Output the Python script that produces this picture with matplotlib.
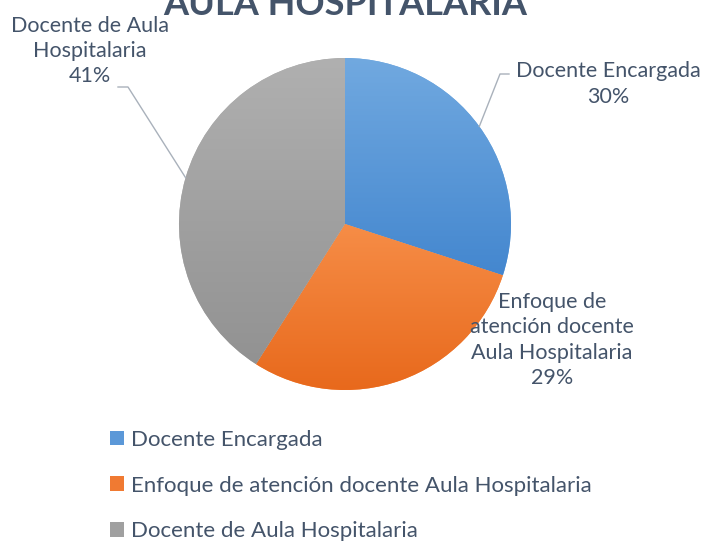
import numpy as np
import matplotlib.pyplot as plt
from matplotlib.patches import Patch

# Datos del gráfico
categorias = ["Docente Encargada",
              "Enfoque de atención docente Aula Hospitalaria",
              "Docente de Aula Hospitalaria"]
porcentajes = [30, 29, 41]
etiquetas = ["Docente Encargada",
             "Enfoque de\natención docente\nAula Hospitalaria",
             "Docente de Aula\nHospitalaria"]
titulo = "AULA HOSPITALARIA"

colores_claros = ["#71a9e0", "#f68d47", "#b0b0b0"]
colores_oscuros = ["#4487cf", "#e8691c", "#929292"]
colores_leyenda = ["#5b98d8", "#f07a32", "#a0a0a0"]
color_texto = "#44546a"

plt.rcParams["font.family"] = ["Lato", "DejaVu Sans"]

W, H = 704, 542
fig = plt.figure(figsize=(W / 100, H / 100), dpi=100)

# ejes del pastel (centro y radio en píxeles)
cx, cy, r = 345, 224, 166
ax = fig.add_axes([(cx - r) / W, 1 - (cy + r) / H, 2 * r / W, 2 * r / H])
wedges, _ = ax.pie(porcentajes, startangle=90, counterclock=False, radius=1,
                   colors=colores_claros, wedgeprops=dict(linewidth=0))

# degradado vertical dentro de cada porción
for w, c1, c2 in zip(wedges, colores_claros, colores_oscuros):
    bb = w.get_path().get_extents()
    a = np.array(plt.matplotlib.colors.to_rgb(c1))
    b = np.array(plt.matplotlib.colors.to_rgb(c2))
    t = np.linspace(0, 1, 256)[:, None, None]
    grad = a * (1 - t) + b * t
    im = ax.imshow(grad, extent=[bb.x0, bb.x1, bb.y0, bb.y1], origin="upper",
                   aspect="auto", interpolation="bicubic", zorder=2)
    im.set_clip_path(w)

ax.set_xlim(-1, 1)
ax.set_ylim(-1, 1)
ax.set_aspect("equal")
ax.axis("off")


def px(x, y):
    # píxeles de la figura -> coordenadas del pastel
    return (x - cx) / r, (cy - y) / r


# etiquetas de datos
pos_etiquetas = [(608, 84), (552, 340), (90, 51)]
codos = [((500, 74), (509, 74)), None, ((128, 87), (118, 87))]
for w, pct, txt, (lx, ly), codo in zip(wedges, porcentajes, etiquetas, pos_etiquetas, codos):
    ang = np.deg2rad((w.theta1 + w.theta2) / 2)
    ax.text(*px(lx, ly), f"{txt}\n{pct}%", ha="center", va="center",
            fontsize=15.5, color=color_texto, linespacing=1.33, zorder=5)
    if codo is not None:
        x0, y0 = np.cos(ang), np.sin(ang)
        (ex, ey), (fx, fy) = codo
        x1, y1 = px(ex, ey)
        x2, y2 = px(fx, fy)
        ax.plot([x0, x1, x2], [y0, y1, y2], color="#a9b1bb", lw=1, clip_on=False, zorder=4)

# título (parcialmente fuera del lienzo)
fig.text(cx / W, 1 - 15 / H, titulo, ha="center", va="baseline",
         fontsize=26, fontweight="bold", color=color_texto)

# leyenda
handles = [Patch(facecolor=c, edgecolor="none") for c in colores_leyenda]
leg = fig.legend(handles, categorias, loc="upper left", bbox_to_anchor=(110 / W, 1 - 430 / H),
                 frameon=False, fontsize=16, labelspacing=1.15, handlelength=0.63,
                 handleheight=0.63, handletextpad=0.3, borderpad=0, borderaxespad=0,
                 labelcolor=color_texto)

fig.savefig("out.png", dpi=100)
